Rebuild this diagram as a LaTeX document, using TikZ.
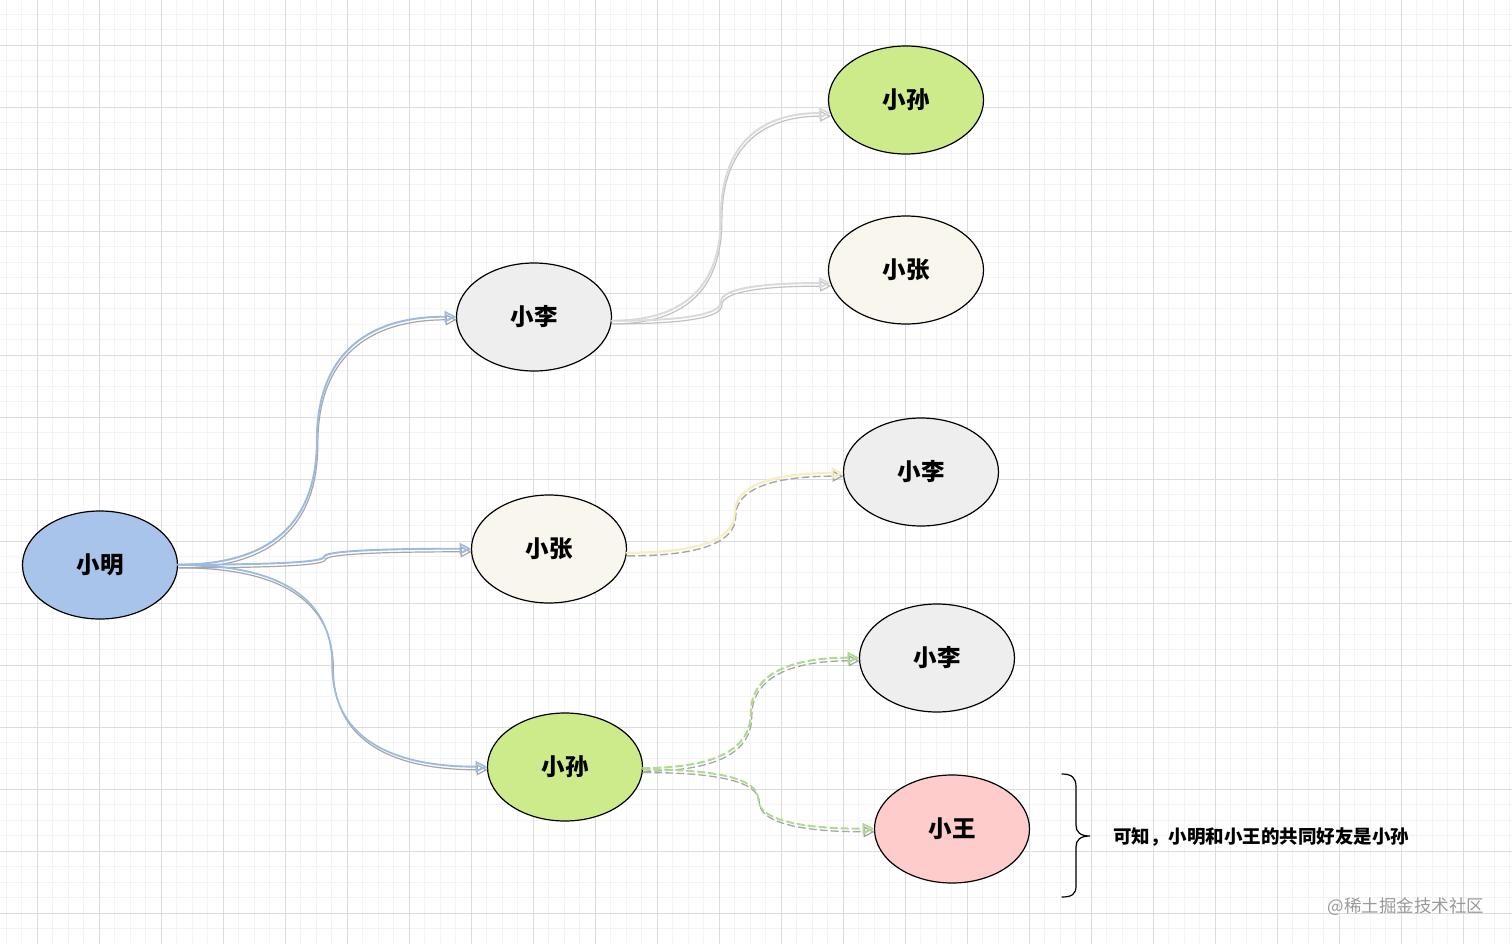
\documentclass[tikz,border=0pt]{standalone}
\usepackage{fontspec}
\setmainfont{Noto Sans CJK SC}
\usetikzlibrary{arrows.meta,shapes.geometric,calc}
\definecolor{gridMinor}{HTML}{F3F3F3}
\definecolor{gridMajor}{HTML}{DCDCDC}
\definecolor{fBlue}{HTML}{A9C4EB}
\definecolor{fGray}{HTML}{EEEEEE}
\definecolor{fCream}{HTML}{F9F7ED}
\definecolor{fGreen}{HTML}{CDEB8B}
\definecolor{fPink}{HTML}{FFCCCC}
\definecolor{eBlue}{HTML}{9DBAE3}
\definecolor{eLight}{HTML}{DADADA}
\definecolor{eYellow}{HTML}{F6EFC2}
\definecolor{eGreen}{HTML}{AFDA92}
\definecolor{eShadow}{HTML}{A6A6A6}
\definecolor{eShadowL}{HTML}{C2C2C2}
\definecolor{wmark}{HTML}{9A9A9A}
\newcommand\spath[2]{let \p1=(#1), \p2=(#2), \n1={(\x2-\x1)/3}, \n2={(\y2-\y1)/3} in
  (\p1) .. controls +(\n1,0pt) and +(0pt,{-(\n2)}) .. ($(\p1)!.5!(\p2)$)
  .. controls +(0pt,\n2) and +({-(\n1)},0pt) .. (\p2)}
\newcommand\sedge[4]{%
  \draw[#2, transform canvas={xshift=0.8pt,yshift=-2.8pt}] \spath{#3}{#4};
  \draw[#1, transform canvas={xshift=-0.4pt,yshift=0.6pt}] \spath{#3}{#4};
  \draw[#1] \spath{#3}{#4};}
\begin{document}
\begin{tikzpicture}[x=1pt,y=-1pt,
  nd/.style={ellipse, draw=black, line width=1.2pt, minimum width=155pt,
    minimum height=108pt, inner sep=0pt,
    font=\fontsize{23.5}{24}\selectfont\bfseries},
  minorg/.style={draw=gridMinor, line width=0.8pt},
  majorg/.style={draw=gridMajor, line width=0.9pt},
  tipo/.style={-{Triangle[open,length=11pt,width=11pt]}, line cap=round, line join=round},
  dashy/.style={dash pattern=on 7pt off 4pt},
  blueE/.style={tipo, draw=eBlue, line width=1.3pt},
  blueS/.style={tipo, draw=eShadow, line width=1.2pt},
  lightE/.style={tipo, draw=eLight, line width=1.3pt},
  lightS/.style={tipo, draw=eShadowL, line width=1.2pt},
  yelE/.style={tipo, draw=eYellow, line width=1.6pt},
  yelS/.style={tipo, dashy, draw=eShadow, line width=1.4pt},
  greE/.style={tipo, dashy, draw=eGreen, line width=1.4pt},
  greS/.style={tipo, dashy, draw=eShadow, line width=1.3pt},
]
\useasboundingbox (0,0) rectangle (1512,944);
\fill[white] (0,0) rectangle (1512,944);
% grid
\foreach \i in {0,...,97} \draw[minorg] ({6+15.5*\i},0) -- ({6+15.5*\i},944);
\foreach \i in {0,...,60} \draw[minorg] (0,{14+15.5*\i}) -- (1512,{14+15.5*\i});
\foreach \i in {0,...,23} \draw[majorg] ({37+62*\i},0) -- ({37+62*\i},944);
\foreach \i in {0,...,14} \draw[majorg] (0,{45+62*\i}) -- (1512,{45+62*\i});

% nodes
\node[nd, fill=fBlue]  (ming)  at (100,565) {小明};
\node[nd, fill=fGray]  (li)    at (534,317) {小李};
\node[nd, fill=fCream] (zhang) at (549,549) {小张};
\node[nd, fill=fGreen] (sun)   at (565,767) {小孙};
\node[nd, fill=fGreen] (sunR)  at (906,100) {小孙};
\node[nd, fill=fCream] (zhangR) at (906,270) {小张};
\node[nd, fill=fGray]  (liR)   at (921,472) {小李};
\node[nd, fill=fGray]  (liR2)  at (937,658) {小李};
\node[nd, fill=fPink]  (wang)  at (952,829) {小王};

% edges
\sedge{blueE}{blueS}{ming.east}{li.west}
\sedge{blueE}{blueS}{ming.east}{zhang.west}
\sedge{blueE}{blueS}{ming.east}{sun.west}
\sedge{lightE}{lightS}{li.-3}{sunR.190}
\sedge{lightE}{lightS}{li.-3}{zhangR.190}
\sedge{yelE}{yelS}{zhang.-3}{liR.181}
\sedge{greE}{greS}{sun.-1}{liR2.west}
\sedge{greE}{greS}{sun.-2}{wang.west}

% brace and note
\coordinate (bt) at (1062,774);
\coordinate (bb) at (1062,897);
\coordinate (bm) at (1090,836);
\draw[black, line width=1.2pt, line cap=round]
  (bt) .. controls (1072,774) and (1076,778) .. (1076,787) -- (1076,825)
  .. controls (1076,832) and (1080,836) .. (bm)
  .. controls (1080,836) and (1076,840) .. (1076,847) -- (1076,886)
  .. controls (1076,894) and (1072,897) .. (bb);
\node[anchor=west, inner sep=0pt, font=\fontsize{18.5}{19}\selectfont\bfseries]
  (note) at (1113,837) {可知，小明和小王的共同好友是小孙};
\node[inner sep=0pt, text=wmark, font=\fontsize{17.5}{18}\selectfont]
  (wm) at (1406,907) {@稀土掘金技术社区};
\end{tikzpicture}
\end{document}
